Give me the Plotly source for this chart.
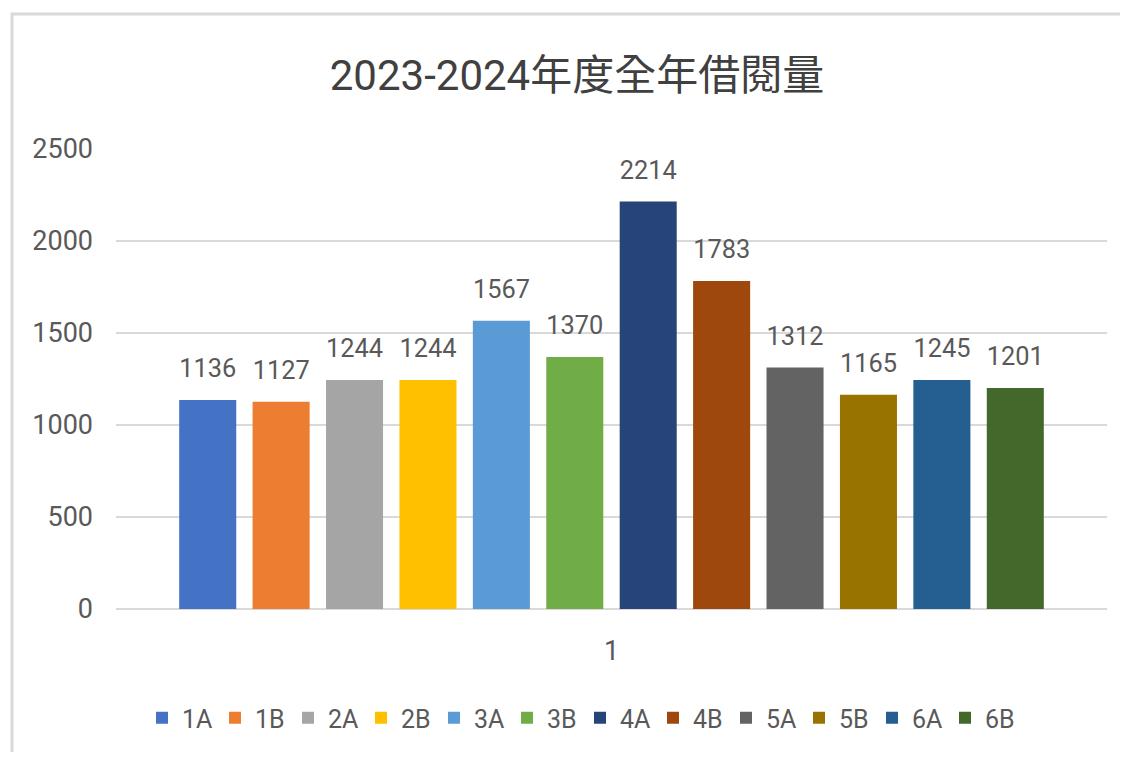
import plotly.graph_objects as go

categories = ["1"]
classes = ["1A", "1B", "2A", "2B", "3A", "3B", "4A", "4B", "5A", "5B", "6A", "6B"]
values = [1136, 1127, 1244, 1244, 1567, 1370, 2214, 1783, 1312, 1165, 1245, 1201]
colors = ["#4472C4", "#ED7D31", "#A5A5A5", "#FFC000", "#5B9BD5", "#70AD47",
          "#264478", "#9E480E", "#636363", "#997300", "#255E91", "#43682B"]
y_ticks = [0, 500, 1000, 1500, 2000, 2500]

FONT = "Roboto, 'Noto Sans CJK TC', sans-serif"
TXT = "#595959"
W, H = 1120, 744

fig = go.Figure()
for name, v, c in zip(classes, values, colors):
    fig.add_trace(go.Bar(
        x=categories, y=[v], name=name,
        marker=dict(color=c, line=dict(width=0)),
        text=[v], texttemplate="<span style='font-size:27px'>%{y}</span><br>&nbsp;",
        textposition="outside", cliponaxis=False,
        textfont=dict(size=14, color=TXT, family=FONT),
    ))

fig.update_layout(
    width=W, height=H,
    paper_bgcolor="white", plot_bgcolor="white",
    margin=dict(l=108, r=21, t=141, b=143),
    barmode="group", bargap=0.111, bargroupgap=0.223,
    font=dict(family=FONT, color=TXT, size=27),
    title=dict(text="2023-2024年度全年借閱量", x=569 / W, xref="container",
               y=1 - 67 / H, yref="container", xanchor="center", yanchor="middle",
               font=dict(size=42, color="#404040", family=FONT)),
    showlegend=True,
    legend=dict(orientation="h", x=572 / W, xanchor="center", xref="container",
                y=1 - 710 / H, yanchor="middle", yref="container",
                font=dict(size=25, color=TXT, family=FONT),
                entrywidth=28, entrywidthmode="pixels", traceorder="normal"),
    xaxis=dict(type="category", showgrid=False, showline=False, ticks="",
               tickfont=dict(size=27, color=TXT), ticklabelstandoff=23),
    yaxis=dict(range=[0, 2500], tickvals=y_ticks, showgrid=True, gridcolor="#D9D9D9",
               gridwidth=2, zeroline=True, zerolinecolor="#D9D9D9", zerolinewidth=2,
               showline=False, ticks="", tickfont=dict(size=27, color=TXT),
               ticklabelstandoff=22),
    shapes=[dict(type="rect", xref="paper", yref="paper",
                 x0=(12 - 116) / 991, x1=1.3, y0=-0.6, y1=(609 - 14) / 460,
                 line=dict(color="#D9D9D9", width=3), fillcolor="rgba(0,0,0,0)",
                 layer="below")],
)

fig.write_html("out.html")
